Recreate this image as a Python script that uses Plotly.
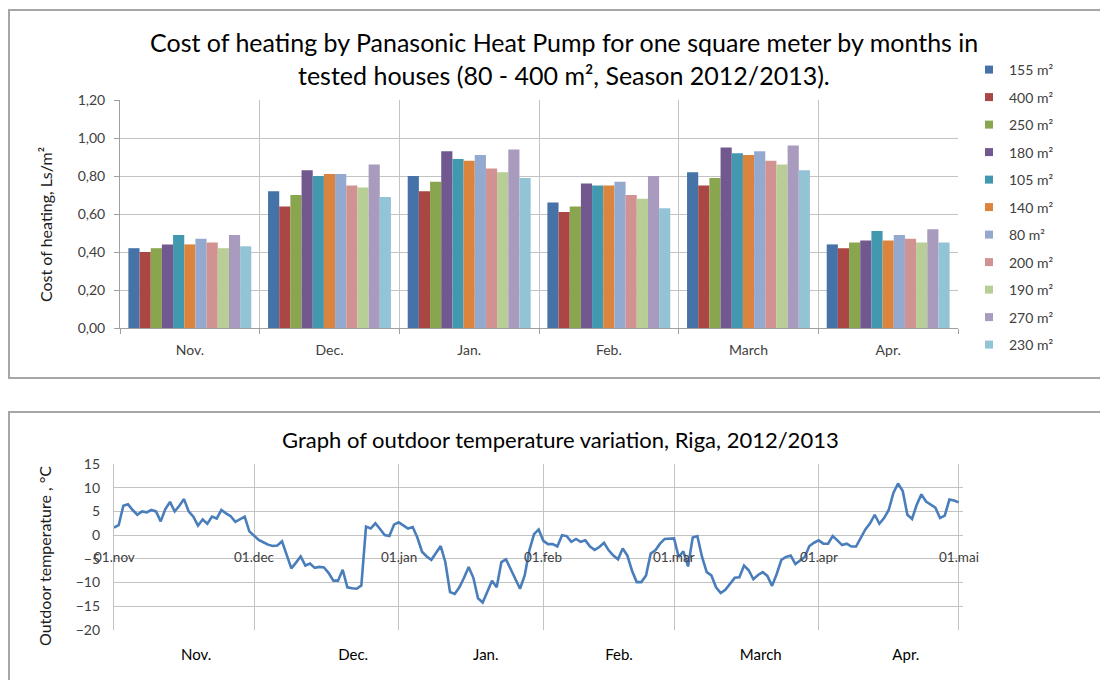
import plotly.graph_objects as go
import pandas as pd

# ---------------- data: heating cost per m2 ----------------
months = ["Nov.", "Dec.", "Jan.", "Feb.", "March", "Apr."]
series_names = ["155 m²", "400 m²", "250 m²", "180 m²", "105 m²", "140 m²",
                "80 m²", "200 m²", "190 m²", "270 m²", "230 m²"]
cost_155 = [0.42, 0.72, 0.80, 0.66, 0.82, 0.44]
cost_400 = [0.40, 0.64, 0.72, 0.61, 0.75, 0.42]
cost_250 = [0.42, 0.70, 0.77, 0.64, 0.79, 0.45]
cost_180 = [0.44, 0.83, 0.93, 0.76, 0.95, 0.46]
cost_105 = [0.49, 0.80, 0.89, 0.75, 0.92, 0.51]
cost_140 = [0.44, 0.81, 0.88, 0.75, 0.91, 0.46]
cost_80 = [0.47, 0.81, 0.91, 0.77, 0.93, 0.49]
cost_200 = [0.45, 0.75, 0.84, 0.70, 0.88, 0.47]
cost_190 = [0.42, 0.74, 0.82, 0.68, 0.86, 0.45]
cost_270 = [0.49, 0.86, 0.94, 0.80, 0.96, 0.52]
cost_230 = [0.43, 0.69, 0.79, 0.63, 0.83, 0.45]
cost_series = [cost_155, cost_400, cost_250, cost_180, cost_105, cost_140,
               cost_80, cost_200, cost_190, cost_270, cost_230]
bar_colors = ["#4572A7", "#AA4643", "#89A54E", "#71588F", "#4198AF", "#DB843D",
              "#93A9CF", "#D19392", "#B9CD96", "#A99BBD", "#92C4D6"]

# ---------------- data: daily outdoor temperature, Riga ----------------
temp_start = "2012-11-01"
temperature = [
    1.6, 2.1, 6.2, 6.5, 5.3, 4.3, 5.0, 4.8, 5.3, 5.0,
    2.9, 5.5, 7.0, 5.0, 6.2, 7.6, 5.0, 3.9, 2.0, 3.3,
    2.4, 3.9, 3.5, 5.3, 4.6, 4.0, 2.8, 3.3, 3.9, 0.8,
    -0.2, -1.0, -1.5, -2.0, -2.3, -2.2, -1.3, -4.0, -7.0, -5.8,
    -4.5, -6.4, -6.0, -6.9, -6.7, -6.8, -8.0, -9.6, -9.6, -7.3,
    -11.0, -11.2, -11.3, -10.6, 1.8, 1.4, 2.5, 1.3, 0.0, -0.2,
    2.2, 2.7, 2.1, 1.4, 1.7, -0.5, -3.5, -4.5, -5.2, -3.6,
    -2.3, -5.7, -12.0, -12.4, -11.0, -9.0, -6.7, -9.0, -13.3, -14.2,
    -11.8, -9.6, -11.0, -5.7, -5.1, -7.1, -9.2, -11.3, -8.5, -3.2,
    0.2, 1.2, -1.2, -1.9, -1.9, -2.4, 0.0, -0.2, -1.4, -0.8,
    -1.4, -1.1, -2.4, -3.1, -2.5, -1.6, -3.2, -4.3, -5.1, -2.8,
    -4.3, -7.5, -9.9, -9.9, -8.5, -3.9, -3.2, -1.8, -0.8, -0.7,
    -0.7, -4.6, -3.4, -6.6, -0.5, -0.2, -4.6, -7.8, -8.5, -11.0,
    -12.2, -11.5, -10.2, -9.0, -8.9, -6.4, -7.4, -9.3, -8.4, -7.8,
    -8.6, -10.7, -8.2, -5.2, -4.6, -4.3, -6.1, -5.4, -4.6, -2.3,
    -1.6, -1.1, -1.8, -1.8, -0.2, -1.1, -2.1, -1.8, -2.4, -2.4,
    -0.5, 1.2, 2.5, 4.3, 2.4, 3.6, 5.3, 8.9, 10.9, 9.3,
    4.3, 3.4, 6.4, 8.6, 7.1, 6.5, 5.8, 3.6, 4.1, 7.5,
    7.3, 6.9,
]
temp_dates = pd.date_range(temp_start, periods=len(temperature), freq="D")
month_start_labels = ["01.nov", "01.dec", "01.jan", "01.feb", "01.mar", "01.apr", "01.mai"]
month_start_dates = ["2012-11-01", "2012-12-01", "2013-01-01", "2013-02-01",
                     "2013-03-01", "2013-04-01", "2013-05-01"]
temp_month_labels = ["Nov.", "Dec.", "Jan.", "Feb.", "March", "Apr."]
temp_month_label_dates = ["2012-11-18 14:00", "2012-12-22 06:00", "2013-01-19 16:00",
                          "2013-02-17 05:00", "2013-03-19 14:00", "2013-04-19 16:00"]

W, H = 1108, 680
OFF = 8  # the page body margin shifts the figure by 8 px
FONT = "Lato"
GRID = "#C3C3C3"
TXT = "#404040"


def px(x):
    return (x - OFF) / W


def py(y):
    return 1 - (y - OFF) / H


fig = go.Figure()

for name, vals, col in zip(series_names, cost_series, bar_colors):
    fig.add_trace(go.Bar(
        x=months, y=vals, name=name, marker=dict(color=col, line=dict(width=0)),
        xaxis="x", yaxis="y", legendgroup=name, showlegend=False,
    ))
    # legend entry with a small square key, as in the reference
    fig.add_trace(go.Scatter(
        x=[None], y=[None], name=name, mode="markers", legendgroup=name,
        marker=dict(symbol="square", size=8, color=col), xaxis="x", yaxis="y",
    ))

fig.add_trace(go.Scatter(
    x=temp_dates, y=temperature, mode="lines", showlegend=False,
    line=dict(color="#4A7EBB", width=2.6), xaxis="x2", yaxis="y2",
))

annotations = [
    dict(text="Cost of heating by Panasonic Heat Pump for one square meter by months in",
         x=px(564), y=py(42), xref="paper", yref="paper", showarrow=False,
         font=dict(family=FONT, size=25, color="#000000"), xanchor="center", yanchor="middle"),
    dict(text="tested houses (80 - 400 m², Season 2012/2013).",
         x=px(564), y=py(75), xref="paper", yref="paper", showarrow=False,
         font=dict(family=FONT, size=25, color="#000000"), xanchor="center", yanchor="middle"),
    dict(text="Graph of outdoor temperature variation, Riga, 2012/2013",
         x=px(560), y=py(439), xref="paper", yref="paper", showarrow=False,
         font=dict(family=FONT, size=22, color="#000000"), xanchor="center", yanchor="middle"),
    dict(text="Cost of heating, Ls/m²", textangle=-90,
         x=px(46), y=py(225), xref="paper", yref="paper", showarrow=False,
         font=dict(family=FONT, size=16, color="#1A1A1A"), xanchor="center", yanchor="middle"),
    dict(text="Outdoor temperature , °C", textangle=-90,
         x=px(44), y=py(556), xref="paper", yref="paper", showarrow=False,
         font=dict(family=FONT, size=16, color="#1A1A1A"), xanchor="center", yanchor="middle"),
]
for lab, d in zip(month_start_labels, month_start_dates):
    annotations.append(dict(text=lab, x=d, y=-4.6, xref="x2", yref="y2", showarrow=False,
                            font=dict(family=FONT, size=13.5, color=TXT),
                            xanchor="center", yanchor="middle"))

fig.update_layout(
    template="none",
    width=W, height=H,
    margin=dict(l=0, r=0, t=0, b=0, autoexpand=False),
    paper_bgcolor="white", plot_bgcolor="white",
    separators=", ",
    barmode="group", bargap=0.12, bargroupgap=0,
    font=dict(family=FONT, color=TXT),
    showlegend=True,
    legend=dict(x=px(969), y=py(54), xanchor="left", yanchor="top",
                font=dict(family=FONT, size=14, color=TXT),
                tracegroupgap=6.3, itemwidth=30, bgcolor="rgba(0,0,0,0)",
                borderwidth=0),
    xaxis=dict(domain=[px(120), px(958)], anchor="y", type="category", automargin=False,
               tickson="boundaries", showgrid=True, gridcolor=GRID, gridwidth=1,
               ticks="outside", ticklen=5, tickcolor="#A0A0A0",
               showline=True, linecolor="#A0A0A0", linewidth=1, mirror=False,
               zeroline=False,
               tickfont=dict(family=FONT, size=14, color=TXT), ticklabelstandoff=9),
    yaxis=dict(domain=[py(328), py(100)], anchor="x", range=[0, 1.2], dtick=0.2,
               automargin=False,
               tickformat=".2f", showgrid=True, gridcolor=GRID, gridwidth=1,
               ticks="outside", ticklen=5, tickcolor="#A0A0A0",
               showline=True, linecolor="#A0A0A0", zeroline=False,
               tickfont=dict(family=FONT, size=14, color=TXT), ticklabelstandoff=6),
    xaxis2=dict(domain=[px(114), px(963)], anchor="y2", type="date", automargin=False,
                range=["2012-11-01", "2013-05-01 22:00"],
                tickvals=temp_month_label_dates, ticktext=temp_month_labels,
                showgrid=False, ticks="", zeroline=False,
                minor=dict(dtick="M1", tick0="2012-11-01", showgrid=True,
                           gridcolor=GRID, gridwidth=1.2, ticks=""),
                showline=False, tickfont=dict(family=FONT, size=15, color="#000000"),
                ticklabelstandoff=14),
    yaxis2=dict(domain=[py(630), py(464)], anchor="x2", range=[-20, 15], dtick=5,
                automargin=False,
                showgrid=True, gridcolor=GRID, gridwidth=1.2, zeroline=False,
                showline=True, linecolor=GRID, linewidth=1.2,
                tickfont=dict(family=FONT, size=14, color=TXT), ticks="",
                ticklabelstandoff=10),
    annotations=annotations,
    shapes=[
        dict(type="rect", xref="paper", yref="paper", x0=px(9), x1=px(1106),
             y0=py(378), y1=py(10), line=dict(color="#A6A6A6", width=2)),
        dict(type="rect", xref="paper", yref="paper", x0=px(9), x1=px(1130),
             y0=py(700), y1=py(412), line=dict(color="#A6A6A6", width=2)),
    ],
)

fig.write_html("out.html")
